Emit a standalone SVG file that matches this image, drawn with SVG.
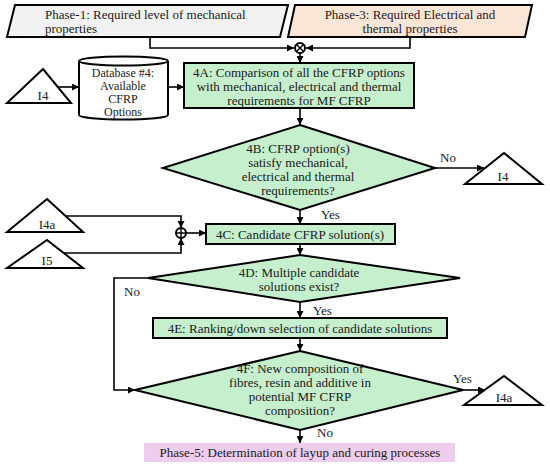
<svg xmlns="http://www.w3.org/2000/svg" width="550" height="467" viewBox="0 0 550 467">
<defs>
<marker id="ah" viewBox="0 0 10 10" refX="10" refY="5" markerWidth="7" markerHeight="7" markerUnits="userSpaceOnUse" orient="auto"><path d="M0,0 L10,5 L0,10 z" fill="#000"/></marker>
</defs>
<style>
.t{font-family:"Liberation Serif","DejaVu Serif",serif;font-size:13px;fill:#1a1a1a;text-anchor:middle}
.l{text-anchor:start}
.s{font-size:12px}
.n{stroke:#000;stroke-width:2}
.g{fill:#c6efcd}
.w{fill:#fff}
.c{fill:none;stroke:#000;stroke-width:1.6}
.a{marker-end:url(#ah)}
</style>
<rect width="550" height="467" fill="#fff"/>

<g id="phase1">
<polygon class="n" fill="#f2f2f2" points="15,5 288,5 280,37 7,37"/>
<text class="t l" x="45" y="19">Phase-1: Required level of mechanical</text>
<text class="t l" x="45" y="33">properties</text>
</g>
<g id="phase3">
<polygon class="n" fill="#fbe5d6" points="295,5 532,5 525,37 288,37"/>
<text class="t" x="410" y="19">Phase-3: Required Electrical and</text>
<text class="t" x="410" y="33">thermal properties</text>
</g>

<g id="connectors">
<path class="c a" d="M150,37 V48 H294"/>
<path class="c a" d="M410,37 V48 H306"/>
<path class="c a" d="M300,53 V63"/>
<path class="c a" d="M58,87 H79"/>
<path class="c a" d="M168,87 H184"/>
<path class="c a" d="M300,108 V125"/>
<path class="c a" d="M435,168 H484"/>
<path class="c a" d="M300,210 V224"/>
<path class="c a" d="M65,216 H181 V228"/>
<path class="c a" d="M64,253 H181 V238"/>
<path class="c a" d="M186,233 H206"/>
<path class="c a" d="M300,244 V255"/>
<path class="c a" d="M148,278 H114 V390 H135"/>
<path class="c a" d="M300,302 V318"/>
<path class="c a" d="M300,338 V351"/>
<path class="c a" d="M463,390 H485"/>
<path class="c a" d="M300,430 V443"/>
<text class="t l" x="440" y="162">No</text>
<text class="t l" x="321" y="219">Yes</text>
<text class="t l" x="124" y="296">No</text>
<text class="t l" x="313" y="315">Yes</text>
<text class="t l" x="453" y="383">Yes</text>
<text class="t l" x="317" y="437">No</text>
</g>

<g id="join1">
<circle class="n" cx="300" cy="48" r="5" fill="#fff" stroke-width="1.6"/>
<path d="M296.5,44.5 L303.5,51.5 M303.5,44.5 L296.5,51.5" stroke="#000" stroke-width="1.4"/>
</g>
<g id="join2">
<circle class="n" cx="181" cy="233" r="5" fill="#fff" stroke-width="1.6"/>
<path d="M176,233 H186 M181,228 V238" stroke="#000" stroke-width="1.4"/>
</g>

<g id="i4-left">
<polygon class="n w" points="43,69 71,103 7,103"/>
<text class="t" x="43" y="100">I4</text>
</g>
<g id="database4">
<path class="n w" d="M79,61 A44.5,4.5 0 0 1 168,61 V115 A44.5,4.5 0 0 1 79,115 Z"/>
<path d="M79,61 A44.5,4.5 0 0 0 168,61" fill="none" stroke="#000" stroke-width="2"/>
<text class="t s" x="123" y="77">Database #4:</text>
<text class="t s" x="123" y="90">Available</text>
<text class="t s" x="123" y="103">CFRP</text>
<text class="t s" x="123" y="116">Options</text>
</g>
<g id="n4A">
<rect class="n g" x="184" y="63" width="230" height="45"/>
<text class="t" x="299" y="77">4A: Comparison of all the CFRP options</text>
<text class="t" x="299" y="91">with mechanical, electrical and thermal</text>
<text class="t" x="299" y="105">requirements for MF CFRP</text>
</g>
<g id="n4B">
<polygon class="n g" points="300,125 435,168 300,210 163,168"/>
<text class="t" x="298" y="153">4B: CFRP option(s)</text>
<text class="t" x="298" y="167">satisfy mechanical,</text>
<text class="t" x="298" y="181">electrical and thermal</text>
<text class="t" x="298" y="195">requirements?</text>
</g>
<g id="i4-right">
<polygon class="n w" points="504,153 542,184 465,184"/>
<text class="t" x="503" y="181">I4</text>
</g>
<g id="i4a-left">
<polygon class="n w" points="47,199 83,232 7,232"/>
<text class="t" x="47" y="229">I4a</text>
</g>
<g id="i5">
<polygon class="n w" points="47,240 83,268 7,268"/>
<text class="t" x="47" y="265">I5</text>
</g>
<g id="n4C">
<rect class="n g" x="206" y="224" width="189" height="20"/>
<text class="t" x="300" y="239">4C: Candidate CFRP solution(s)</text>
</g>
<g id="n4D">
<polygon class="n g" points="300,255 460,278 300,302 148,278"/>
<text class="t" x="299" y="277">4D: Multiple candidate</text>
<text class="t" x="299" y="291">solutions exist?</text>
</g>
<g id="n4E">
<rect class="n g" x="153" y="318" width="294" height="20"/>
<text class="t" x="300" y="333">4E: Ranking/down selection of candidate solutions</text>
</g>
<g id="n4F">
<polygon class="n g" points="300,351 463,390 300,430 135,390"/>
<text class="t" x="300" y="373">4F: New composition of</text>
<text class="t" x="300" y="387">fibres, resin and additive in</text>
<text class="t" x="300" y="401">potential MF CFRP</text>
<text class="t" x="300" y="415">composition?</text>
</g>
<g id="i4a-right">
<polygon class="n w" points="504,376 542,405 464,405"/>
<text class="t" x="504" y="402">I4a</text>
</g>
<g id="phase5">
<rect x="144" y="443" width="311" height="19" fill="#efcdef"/>
<text class="t" x="300" y="457">Phase-5: Determination of layup and curing processes</text>
</g>
</svg>
